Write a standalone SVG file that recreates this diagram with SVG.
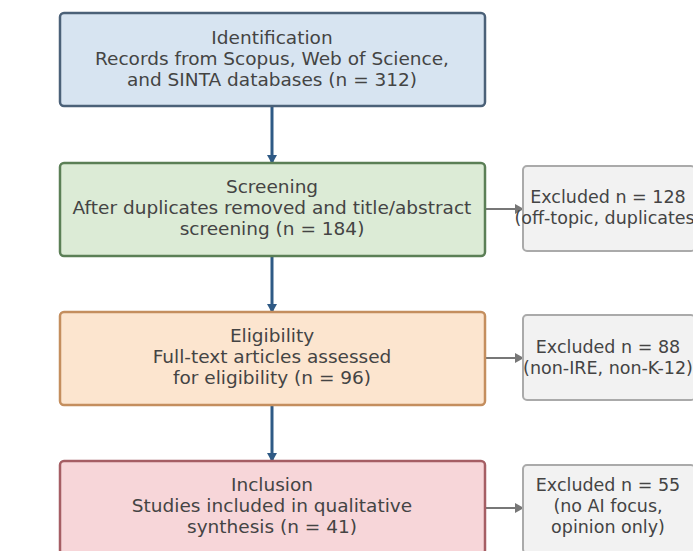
<svg xmlns="http://www.w3.org/2000/svg" width="693" height="551" viewBox="0 0 693 551">
<defs>
<style>
text{font-family:"DejaVu Sans",sans-serif;font-size:18.5px;fill:#444;text-anchor:middle}
.ex text{font-size:17.5px}
.main{stroke-width:2.5}
.exc{fill:#f2f2f2;stroke:#aaa;stroke-width:2}
.v{stroke:#2f5a85;stroke-width:3;fill:none}
.h{stroke:#777;stroke-width:2;fill:none}
</style>
<marker id="av" markerWidth="10" markerHeight="10" refX="8" refY="5" orient="auto" markerUnits="userSpaceOnUse"><path d="M0,0 L9,5 L0,10 Z" fill="#2f5a85"/></marker>
<marker id="ah" markerWidth="10" markerHeight="10" refX="8" refY="5" orient="auto" markerUnits="userSpaceOnUse"><path d="M0,0 L9,5 L0,10 Z" fill="#777"/></marker>
</defs>
<rect width="693" height="551" fill="#fff"/>
<g id="connectors">
<line class="v" x1="272" y1="106" x2="272" y2="163" marker-end="url(#av)"/>
<line class="v" x1="272" y1="256" x2="272" y2="312" marker-end="url(#av)"/>
<line class="v" x1="272" y1="405" x2="272" y2="461" marker-end="url(#av)"/>
<line class="h" x1="485" y1="209" x2="523" y2="209" marker-end="url(#ah)"/>
<line class="h" x1="485" y1="358" x2="523" y2="358" marker-end="url(#ah)"/>
<line class="h" x1="485" y1="508" x2="523" y2="508" marker-end="url(#ah)"/>
</g>
<g id="identification">
<rect class="main" x="60" y="13" width="425" height="93" rx="4" fill="#d7e4f1" stroke="#4b6178"/>
<text x="272" y="44">Identification</text>
<text x="272" y="65">Records from Scopus, Web of Science,</text>
<text x="272" y="86">and SINTA databases (n = 312)</text>
</g>
<g id="screening">
<rect class="main" x="60" y="163" width="425" height="93" rx="4" fill="#dcebd6" stroke="#5b7f56"/>
<text x="272" y="193">Screening</text>
<text x="272" y="214">After duplicates removed and title/abstract</text>
<text x="272" y="235">screening (n = 184)</text>
</g>
<g id="eligibility">
<rect class="main" x="60" y="312" width="425" height="93" rx="4" fill="#fce5cf" stroke="#c48e5e"/>
<text x="272" y="342">Eligibility</text>
<text x="272" y="363">Full-text articles assessed</text>
<text x="272" y="384">for eligibility (n = 96)</text>
</g>
<g id="inclusion">
<rect class="main" x="60" y="461" width="425" height="93" rx="4" fill="#f7d6d9" stroke="#a55e64"/>
<text x="272" y="491">Inclusion</text>
<text x="272" y="512">Studies included in qualitative</text>
<text x="272" y="533">synthesis (n = 41)</text>
</g>
<g id="excluded1" class="ex">
<rect class="exc" x="523" y="166" width="172" height="85" rx="4"/>
<text x="608" y="203">Excluded n = 128</text>
<text x="608" y="224">(off-topic, duplicates)</text>
</g>
<g id="excluded2" class="ex">
<rect class="exc" x="523" y="315" width="172" height="85" rx="4"/>
<text x="608" y="353">Excluded n = 88</text>
<text x="608" y="374">(non-IRE, non-K-12)</text>
</g>
<g id="excluded3" class="ex">
<rect class="exc" x="523" y="465" width="172" height="88" rx="4"/>
<text x="608" y="491">Excluded n = 55</text>
<text x="608" y="512">(no AI focus,</text>
<text x="608" y="533">opinion only)</text>
</g>
</svg>
